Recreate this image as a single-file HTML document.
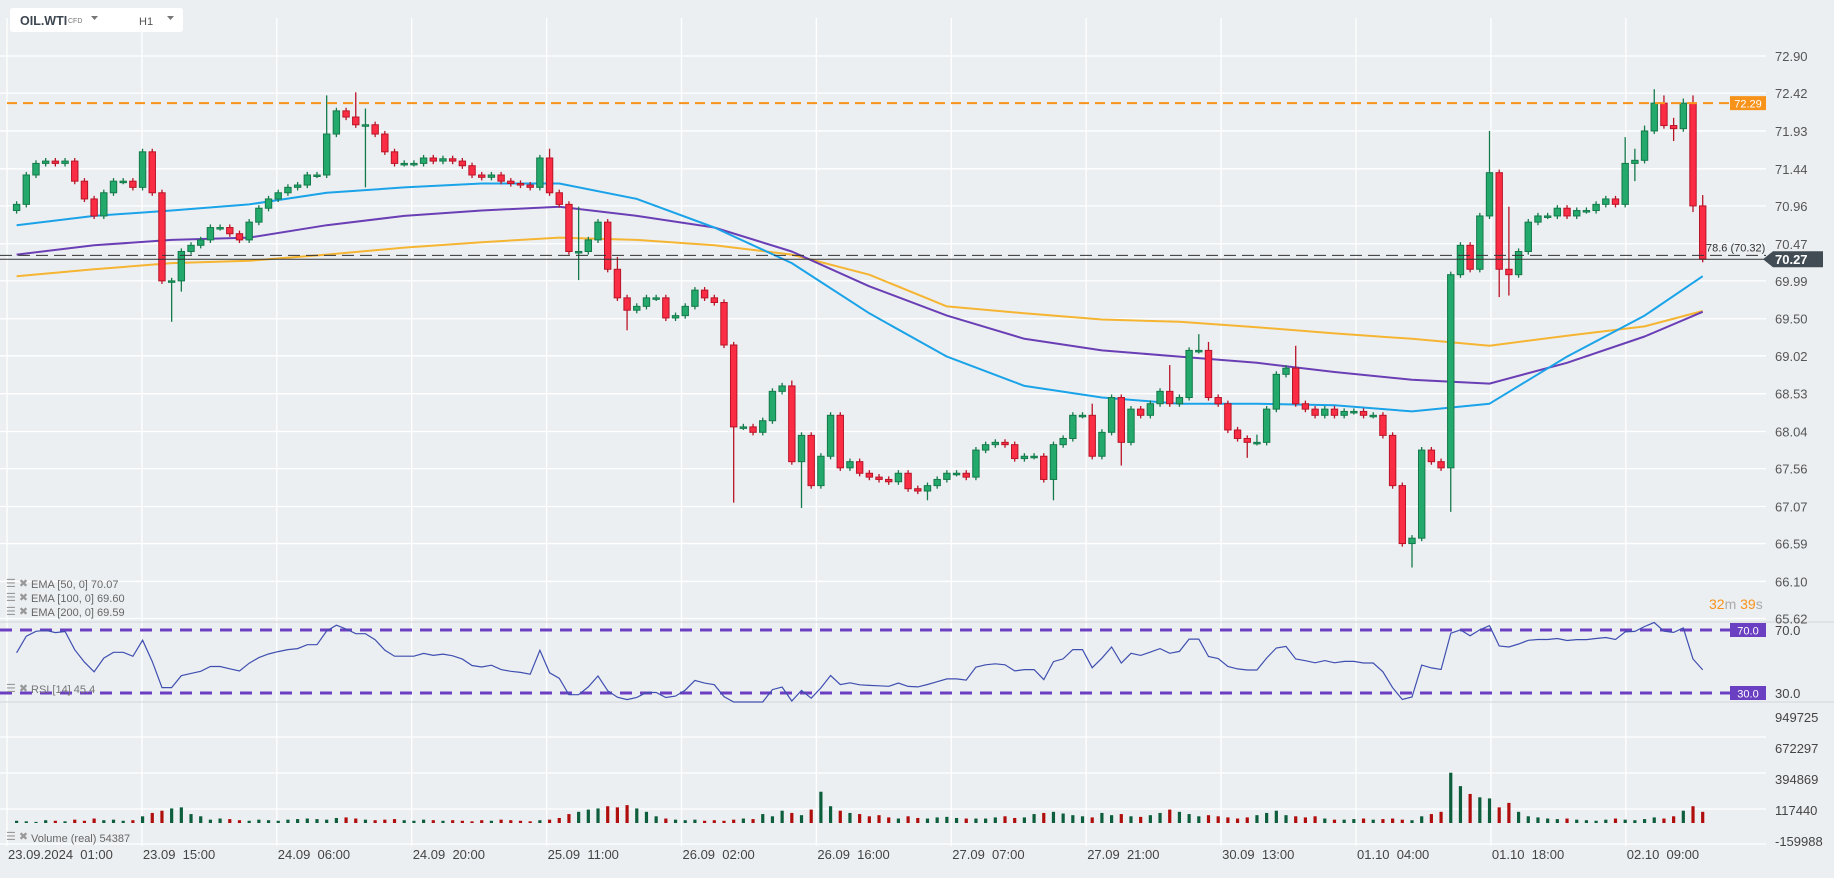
<!DOCTYPE html>
<html><head><meta charset="utf-8"><style>
html,body{margin:0;padding:0;background:#eceff2;}
svg{display:block;font-family:"Liberation Sans",sans-serif;}
</style></head><body>
<svg id="chart" width="1834" height="878" viewBox="0 0 1834 878" xmlns="http://www.w3.org/2000/svg">
<rect x="0" y="0" width="1834" height="878" fill="#eceff2"/>
<g id="grid"></g>
<g id="ema"></g>
<g id="candles"></g>
<g id="rsi"></g>
<g id="vol"></g>
<g id="axes"></g>
<g>
<rect x="10" y="8" width="173" height="24" rx="3" fill="#ffffff"/>
<text x="20" y="25" font-size="12.5" font-weight="bold" fill="#3c4650">OIL.WTI</text>
<text x="68" y="23" font-size="7" fill="#777">CFD</text>
<path d="M91 16 L98 16 L94.5 20 Z" fill="#777"/>
<text x="139" y="25" font-size="11" fill="#555">H1</text>
<path d="M167 16 L174 16 L170.5 20 Z" fill="#777"/>
</g>
<g font-size="11" fill="#666">
<text x="6" y="587" fill="#999">☰ ✖</text><text x="31" y="588">EMA [50, 0] 70.07</text>
<text x="6" y="601" fill="#999">☰ ✖</text><text x="31" y="602">EMA [100, 0] 69.60</text>
<text x="6" y="615" fill="#999">☰ ✖</text><text x="31" y="616">EMA [200, 0] 69.59</text>
</g>
<g font-size="11" fill="#777"><text x="6" y="692" fill="#999">☰ ✖</text><text x="31" y="693">RSI [14] 45.4</text></g>
<g font-size="11" fill="#666"><text x="6" y="840" fill="#999">☰ ✖</text><text x="31" y="842">Volume (real) 54387</text></g>
<g font-size="14"><text x="1709" y="609" fill="#f7931a">32<tspan fill="#aaa">m</tspan> 39<tspan fill="#aaa">s</tspan></text></g>
</svg>
<script>
const closes=[70.98,71.36,71.51,71.54,71.51,71.54,71.28,71.05,70.83,71.13,71.28,71.28,71.20,71.66,71.13,
69.99,69.99,70.37,70.45,70.52,70.68,70.68,70.60,70.52,70.75,70.93,71.05,71.13,71.20,71.23,71.36,71.36,71.89,72.19,72.11,
72.01,72.01,71.89,71.66,71.51,71.51,71.51,71.58,71.54,71.57,71.54,71.48,71.36,71.33,71.36,71.28,71.25,71.23,71.20,
71.58,71.13,70.98,70.37,70.37,70.52,70.75,70.14,69.77,69.61,69.66,69.77,69.77,69.51,69.54,69.66,69.87,69.77,69.71,69.16,
68.10,68.10,68.03,68.18,68.56,68.63,67.65,67.99,67.34,67.72,68.25,67.57,67.65,67.50,67.45,67.42,67.39,67.50,67.30,67.27,
67.34,67.42,67.50,67.50,67.45,67.80,67.87,67.90,67.87,67.69,67.72,67.72,67.42,67.87,67.95,68.25,68.25,67.72,68.03,68.48,
67.90,68.33,68.25,68.40,68.56,68.40,68.48,69.09,69.09,68.48,68.40,68.06,67.95,67.90,67.90,68.33,68.78,68.86,68.40,68.33,
68.25,68.33,68.25,68.30,68.30,68.25,68.25,67.99,67.34,66.59,66.66,67.80,67.65,67.57,70.07,
70.45,70.14,70.83,71.39,70.14,70.07,70.37,70.75,70.83,70.83,70.93,70.83,70.90,70.90,70.98,71.05,70.98,
71.51,71.55,71.93,72.29,72.00,71.96,72.29,70.96,70.27];
const firstOpen=70.90;
const highSpikes={15:70.9,16:69.9,32:72.39,35:72.43,36:72.22,55:71.7,58:70.95,62:70.3,63:69.0,74:69.1,80:68.7,86:67.6,100:67.9,111:68.4,119:68.9,122:69.3,123:69.2,128:68.0,132:69.15,152:71.93,154:70.95,166:71.85,167:71.7,168:72.0,169:72.47,170:72.39,171:72.1,172:72.35,173:72.39,174:71.1};
const lowSpikes={16:69.46,17:69.85,36:71.2,58:70.0,63:69.35,74:67.12,81:67.05,94:67.15,107:67.15,114:67.6,127:67.7,144:66.28,148:67.0,153:69.78,154:69.8,167:71.28,171:71.8,173:70.88};
const emaSampleStep=8;
const ema50=[70.71,70.83,70.90,70.98,71.13,71.20,71.25,71.25,71.05,70.68,70.22,69.57,69.01,68.63,68.48,68.40,68.40,68.38,68.30,68.40,69.01,69.54,70.05];
const ema100=[70.33,70.45,70.52,70.55,70.71,70.83,70.90,70.95,70.83,70.68,70.37,69.92,69.54,69.24,69.09,69.01,68.93,68.81,68.71,68.66,68.93,69.27,69.59];
const ema200=[70.05,70.14,70.22,70.25,70.33,70.42,70.49,70.55,70.52,70.45,70.33,70.07,69.66,69.57,69.49,69.46,69.39,69.31,69.24,69.15,69.28,69.40,69.60];
const volumesK=[20,15,10,25,20,15,30,20,40,25,30,20,25,60,90,110,130,140,80,60,
30,40,35,25,20,30,25,20,30,35,40,35,30,45,50,40,30,25,30,35,
25,20,30,25,20,25,20,15,25,20,30,25,20,15,25,30,45,80,100,120,
130,150,140,160,130,100,60,40,30,25,30,20,25,20,30,40,35,80,60,110,
90,70,120,280,150,110,90,80,60,70,50,40,60,45,40,50,55,45,40,40,
40,50,60,45,50,80,90,100,85,70,60,50,90,70,80,60,55,70,90,120,
100,80,60,70,60,50,40,50,70,90,110,70,60,50,60,40,30,30,35,40,
30,35,40,30,25,60,80,100,450,330,260,230,220,140,180,100,60,50,40,35,
40,30,25,20,30,40,30,25,35,50,40,60,110,150,100];
const priceTicks=["72.90","72.42","71.93","71.44","70.96","70.47","69.99","69.50","69.02","68.53","68.04","67.56","67.07","66.59","66.10","65.62"];
const volTicks=["949725","672297","394869","117440","-159988"];
const volTickVals=[949725,672297,394869,117440,-159988];
const timeLabels=["23.09.2024  01:00","23.09  15:00","24.09  06:00","24.09  20:00","25.09  11:00","26.09  02:00","26.09  16:00","27.09  07:00","27.09  21:00","30.09  13:00","01.10  04:00","01.10  18:00","02.10  09:00"];
const resistance=72.29, fibLevel=70.32, lastPrice=70.27;

const NS="http://www.w3.org/2000/svg";
const plotR=1766;
const n=closes.length;
const xOf=i=>16.6+i*(1702.7-16.6)/(n-1);
const yP=p=>56+(72.90-p)*77.27;
const yR=v=>630+(70-v)*1.575;
const yV=v=>823-v/8950;
function mk(parent,tag,attrs){const e=document.createElementNS(NS,tag);for(const k in attrs)e.setAttribute(k,attrs[k]);parent.appendChild(e);return e;}
const grid=document.getElementById('grid'),axes=document.getElementById('axes');
priceTicks.forEach((t,k)=>{const y=yP(+t);
 const l=mk(grid,'line',{x1:0,x2:plotR,y1:y,y2:y,stroke:'#ffffff','stroke-width':1.3});
 
 
 const tx=mk(axes,'text',{x:1775,y:y+5,'font-size':13,fill:'#555'});tx.textContent=t;
 
 
});
[737,773,809,844].forEach(y=>{const l=mk(grid,'line',{x1:0,x2:plotR,y1:y,y2:y,stroke:'#ffffff','stroke-width':1.3});
 
 });
timeLabels.forEach((t,k)=>{const x=7+k*134.9;
 const l=mk(grid,'line',{x1:x,x2:x,y1:18,y2:846,stroke:'#ffffff','stroke-width':1.3});
 
 
 const tx=mk(axes,'text',{x:x+1,y:859,'font-size':13,fill:'#444','xml:space':'preserve'});tx.textContent=t;tx.style.whiteSpace='pre';
 
 
});
[622,702].forEach(y=>{const l=mk(grid,'line',{x1:0,x2:1834,y1:y,y2:y,stroke:'#d0d4d8','stroke-width':1});
 
 });
{const y=yP(resistance);
 const l=mk(axes,'line',{x1:7,x2:1730,y1:y,y2:y,stroke:'#f7931a','stroke-width':2,'stroke-dasharray':'10 6'});
 
 
 const r=mk(axes,'rect',{x:1730,y:y-7,width:36,height:14,fill:'#f7931a'});
 
 
 const t=mk(axes,'text',{x:1748,y:y+4.5,'font-size':11,fill:'#fff','text-anchor':'middle'});t.textContent=resistance.toFixed(2);
 
 }
{const yf=yP(fibLevel);
 const l=mk(axes,'line',{x1:0,x2:plotR,y1:yf,y2:yf,stroke:'#333','stroke-width':1,'stroke-dasharray':'12 6'});
 
 
 const t=mk(axes,'text',{x:1706,y:yf-4,'font-size':11,fill:'#333'});t.textContent='78.6 ('+fibLevel.toFixed(2)+')';
 
 
 const yl=yP(lastPrice);
 const l2=mk(axes,'line',{x1:0,x2:plotR,y1:yl,y2:yl,stroke:'#333','stroke-width':1});
 
 
 const p=mk(axes,'path',{d:`M1763 ${yl} L1773 ${yl-8} L1823 ${yl-8} L1823 ${yl+8} L1773 ${yl+8} Z`,fill:'#414c55'});
 
 
 const t2=mk(axes,'text',{x:1775,y:yl+5,'font-size':13,'font-weight':'bold',fill:'#fff'});t2.textContent=lastPrice.toFixed(2);
 
 }
const emaG=document.getElementById('ema');
[[ema200,'#f5b532','ema-200-line'],[ema100,'#6a3fb5','ema-100-line'],[ema50,'#1aa3e8','ema-50-line']].forEach(([arr,c,name])=>{
 const pts=arr.map((v,k)=>{const idx=Math.min(k*emaSampleStep,n-1);return xOf(idx).toFixed(1)+','+yP(v).toFixed(1);}).join(' ');
 const pl=mk(emaG,'polyline',{points:pts,fill:'none',stroke:c,'stroke-width':2,'stroke-linejoin':'round'});
 
 
});
const cg=document.getElementById('candles');
for(let i=0;i<n;i++){
 const o=i===0?firstOpen:closes[i-1],c=closes[i];
 let h=Math.max(o,c)+0.04,l=Math.min(o,c)-0.04;
 if(highSpikes[i]!==undefined)h=Math.max(h,highSpikes[i]);
 if(lowSpikes[i]!==undefined)l=Math.min(l,lowSpikes[i]);
 const up=c>=o,x=xOf(i);
 const g=mk(cg,'g',{});
 
 
 mk(g,'line',{x1:x,x2:x,y1:yP(h),y2:yP(l),stroke:up?'#157a4b':'#b81427','stroke-width':1.3});
 const yt=yP(Math.max(o,c)),yb=yP(Math.min(o,c));
 mk(g,'rect',{x:x-3.2,y:yt,width:6.4,height:Math.max(1.5,yb-yt),fill:up?'#22a96b':'#fb2d45',stroke:up?'#157a4b':'#b81427','stroke-width':1});
}
const rg=document.getElementById('rsi');
const rsiVals=[];{let ag=0.05,al=0.045;let prev=firstOpen;
 for(let i=0;i<n;i++){const d=closes[i]-prev;prev=closes[i];ag=(ag*13+Math.max(d,0))/14;al=(al*13+Math.max(-d,0))/14;rsiVals.push(100-100/(1+ag/Math.max(al,1e-6)));}}
[70,30].forEach(v=>{const y=yR(v);
 const l=mk(rg,'line',{x1:0,x2:1730,y1:y,y2:y,stroke:'#6a3fc1','stroke-width':3,'stroke-dasharray':'12 8'});
 
 
 const r=mk(rg,'rect',{x:1730,y:y-7,width:36,height:14,fill:'#6a3fc1'});
 
 
 const t=mk(rg,'text',{x:1748,y:y+4.5,'font-size':11,fill:'#fff','text-anchor':'middle'});t.textContent=v.toFixed(1);
 
 
 const t2=mk(rg,'text',{x:1775,y:y+5,'font-size':13,fill:'#444'});t2.textContent=v.toFixed(1);
 
 
});
{const pts=rsiVals.map((v,i)=>xOf(i).toFixed(1)+','+Math.min(702,Math.max(622,yR(v))).toFixed(1)).join(' ');
 const pl=mk(rg,'polyline',{points:pts,fill:'none',stroke:'#3f4fb0','stroke-width':1.2});
 
 }
const vg=document.getElementById('vol');
volTicks.forEach((t,k)=>{const tx=mk(vg,'text',{x:1775,y:yV(volTickVals[k])+5,'font-size':13,fill:'#444'});tx.textContent=t;
 
 });
for(let i=0;i<n&&i<volumesK.length;i++){
 const o=i===0?firstOpen:closes[i-1],c=closes[i];const v=volumesK[i]*1000;
 const r=mk(vg,'rect',{x:xOf(i)-1.6,y:yV(v),width:3.2,height:Math.max(1,823-yV(v)),fill:c>=o?'#0d5e3c':'#b00d0d'});
 
 
}
</script>
</body></html>
